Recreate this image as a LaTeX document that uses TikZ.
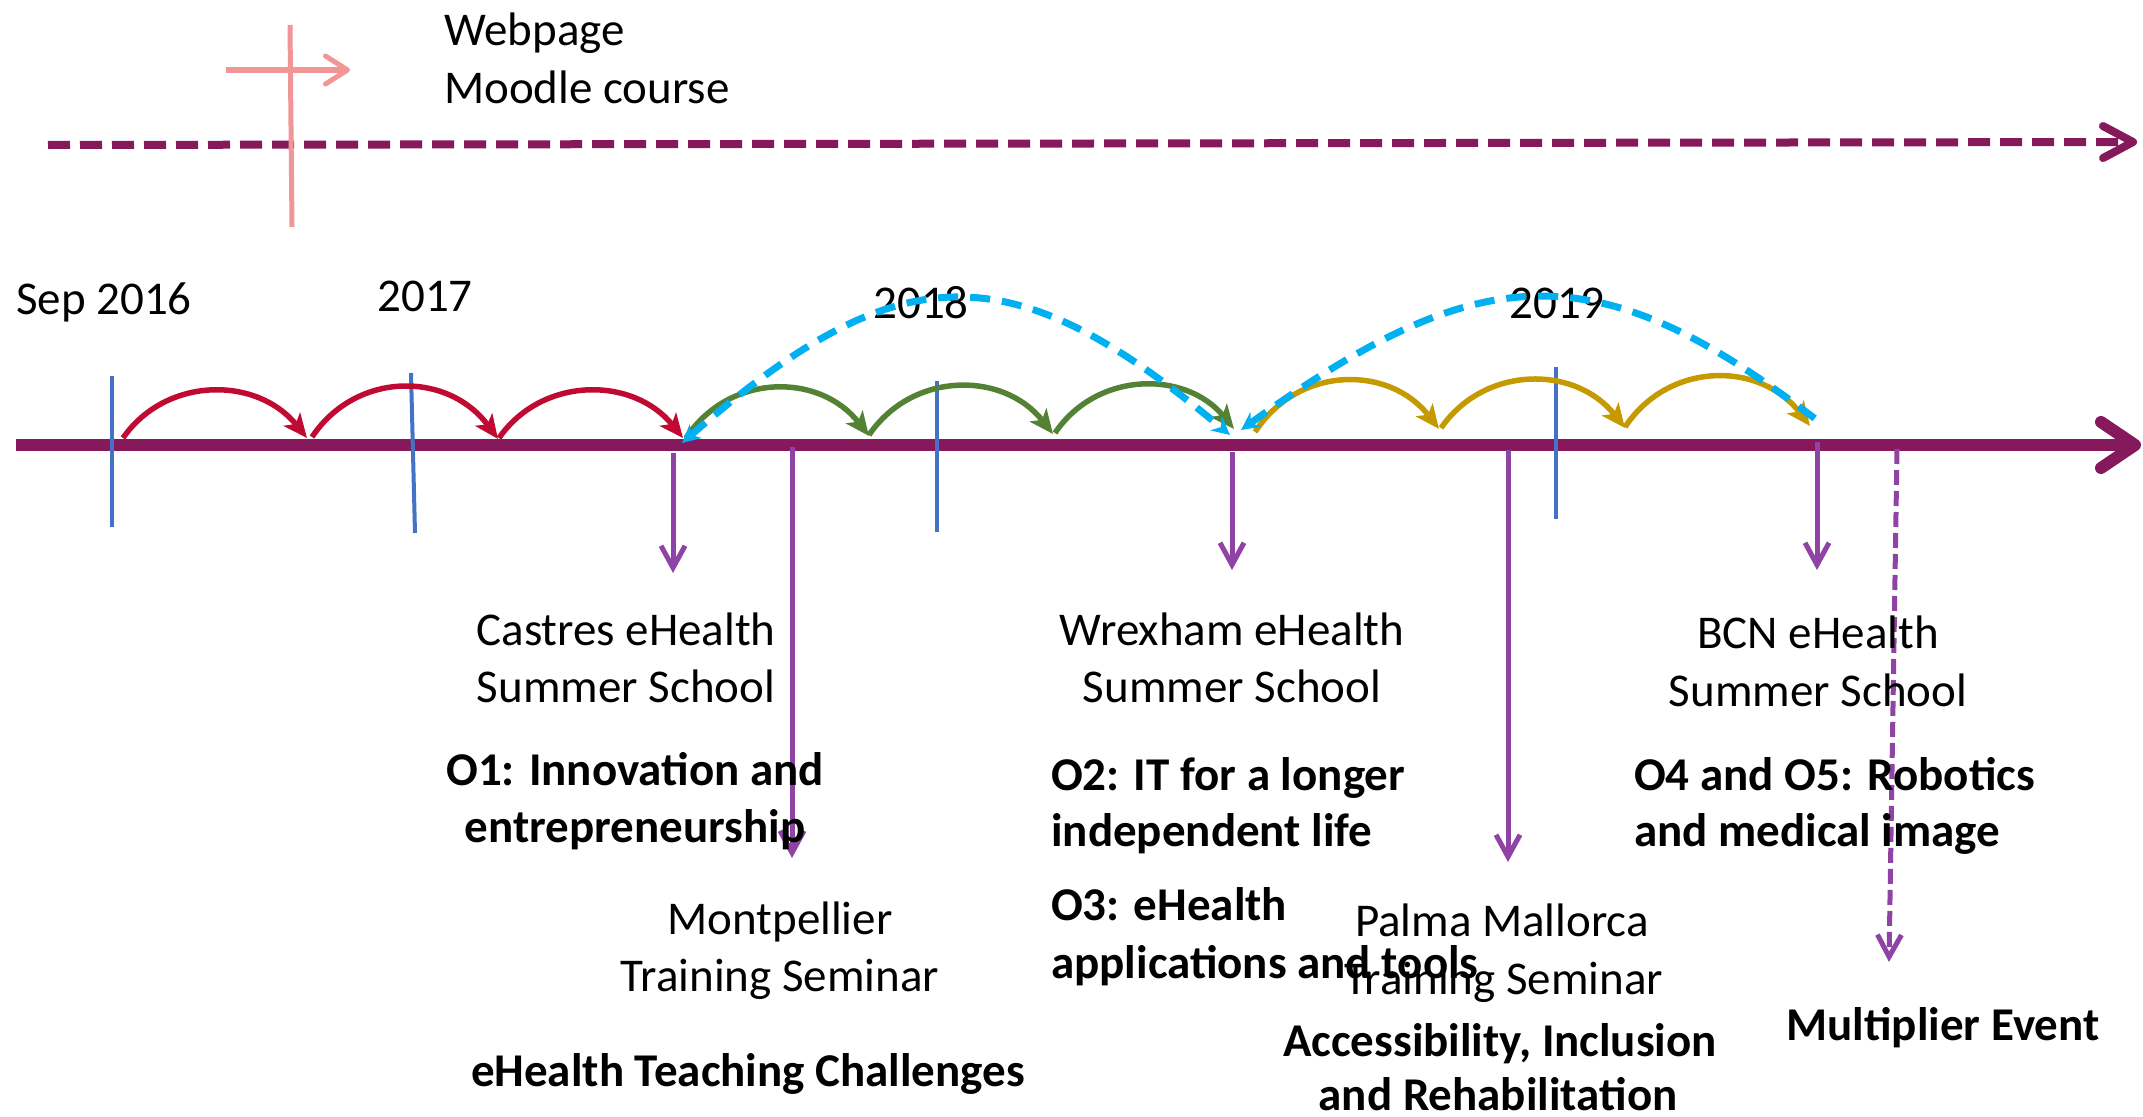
\documentclass[tikz,border=0pt]{standalone}
\usepackage{fontspec}
\setmainfont{Carlito}
\usetikzlibrary{arrows.meta}
\definecolor{axisc}{RGB}{134,24,92}
\definecolor{tickc}{RGB}{68,114,196}
\definecolor{hred}{RGB}{192,10,50}
\definecolor{hgreen}{RGB}{84,130,53}
\definecolor{hgold}{RGB}{197,153,0}
\definecolor{hcyan}{RGB}{0,176,240}
\definecolor{purp}{RGB}{143,67,165}
\definecolor{pinkc}{RGB}{240,150,150}
\tikzset{
  txt/.style={inner sep=0pt, font=\fontsize{47}{57}\selectfont},
  btxt/.style={inner sep=0pt, font=\fontsize{47}{57}\selectfont\bfseries},
  hop/.style={line width=5.5pt, -{Stealth[length=24pt,width=21pt,inset=6pt]}},
  cyanarc/.style={draw=hcyan, line width=7pt, dash pattern=on 20pt off 12pt},
  tickline/.style={draw=tickc, line width=4pt},
  downarrow/.style={draw=purp, line width=5pt, -{Straight Barb[length=22pt,width=24pt]}},
  downdash/.style={downarrow, dash pattern=on 15pt off 6pt},
  axisline/.style={draw=axisc, line width=12pt, -{Straight Barb[round,length=34pt,width=46pt]}},
  topline/.style={draw=axisc, line width=8pt, dash pattern=on 22pt off 10pt, -{Straight Barb[round,length=30pt,width=32pt]}},
  pinkline/.style={draw=pinkc, line width=5pt}
}
\begin{document}
\begin{tikzpicture}[x=1pt,y=-1pt]
\useasboundingbox (0,0) rectangle (2143,1116);

% ---- top: pink cross, website text, dashed line
\coordinate (pv0) at (290,25);
\coordinate (pv1) at (292,227);
\coordinate (ph0) at (226,70);
\coordinate (ph1) at (350,70);
\coordinate (tl0) at (48,145);
\coordinate (tl1) at (2137,142);
\draw[topline] (tl0) -- (tl1);
\draw[pinkline] (pv0) -- (pv1);
\draw[pinkline, -{Straight Barb[round,length=22pt,width=28pt]}] (ph0) -- (ph1);
\node[txt, anchor=base west] (web) at (444,46) {Webpage};
\node[txt, anchor=base west] (moodle) at (444,103) {Moodle course};

% ---- year labels
\node[txt, anchor=base west] (ysep) at (16,314) {Sep 2016};
\node[txt, anchor=base] (y17) at (425,311) {2017};
\node[txt, anchor=base] (y18) at (921,318) {2018};
\node[txt, anchor=base] (y19) at (1557,318) {2019};

% ---- main axis
\coordinate (ax0) at (16,445);
\coordinate (ax1) at (2141,445);
\draw[axisline] (ax0) -- (ax1);

% ---- purple arrows down
\coordinate (p1a) at (673,453);  \coordinate (p1b) at (673,573);
\coordinate (p2a) at (792,447);  \coordinate (p2b) at (792,858);
\coordinate (p3a) at (1232,452); \coordinate (p3b) at (1232,570);
\coordinate (p4a) at (1508,450); \coordinate (p4b) at (1508,862);
\coordinate (p5a) at (1817,442); \coordinate (p5b) at (1817,570);
\coordinate (p6a) at (1897,449); \coordinate (p6b) at (1889,962);
\draw[downarrow] (p1a) -- (p1b);
\draw[downarrow] (p2a) -- (p2b);
\draw[downarrow] (p3a) -- (p3b);
\draw[downarrow] (p4a) -- (p4b);
\draw[downarrow] (p5a) -- (p5b);
\draw[downdash] (p6a) -- (p6b);

% ---- blue year ticks
\coordinate (t1a) at (112,376);  \coordinate (t1b) at (112,527);
\coordinate (t2a) at (411,373);  \coordinate (t2b) at (415,533);
\coordinate (t3a) at (937,381);  \coordinate (t3b) at (937,532);
\coordinate (t4a) at (1556,367); \coordinate (t4b) at (1556,519);
\draw[tickline] (t1a) -- (t1b);
\draw[tickline] (t2a) -- (t2b);
\draw[tickline] (t3a) -- (t3b);
\draw[tickline] (t4a) -- (t4b);

% ---- hops
\coordinate (r0) at (123,438);  \coordinate (r1) at (307,438);
\coordinate (r1s) at (312,437); \coordinate (r2) at (498,439);
\coordinate (r2s) at (499,438); \coordinate (r3) at (683,438);
\draw[hop, hred] (r0) .. controls (166,376) and (257,376) .. (r1);
\draw[hop, hred] (r1s) .. controls (356,371) and (448,371) .. (r2);
\draw[hop, hred] (r2s) .. controls (542,376) and (633,376) .. (r3);
\coordinate (g0) at (686,438);   \coordinate (g1) at (869,436);
\coordinate (g1s) at (869,435);  \coordinate (g2) at (1053,434);
\coordinate (g2s) at (1055,433); \coordinate (g3) at (1234,429);
\draw[hop, hgreen] (g0) .. controls (729,372.5) and (820,372.5) .. (g1);
\draw[hop, hgreen] (g1s) .. controls (912.5,371) and (1003.5,371) .. (g2);
\draw[hop, hgreen] (g2s) .. controls (1097,370.5) and (1186,370.5) .. (g3);
\coordinate (o0) at (1255,432);  \coordinate (o1) at (1439,429);
\coordinate (o1s) at (1441,428); \coordinate (o2) at (1625,428);
\coordinate (o2s) at (1625,427); \coordinate (o3) at (1810,426);
\draw[hop, hgold] (o0) .. controls (1298.5,365) and (1389.5,365) .. (o1);
\draw[hop, hgold] (o1s) .. controls (1484.5,365) and (1575.5,365) .. (o2);
\draw[hop, hgold] (o2s) .. controls (1668.75,361) and (1760.25,361) .. (o3);

% ---- event labels
\node[txt, anchor=base] (cas1) at (626,645) {Castres eHealth};
\node[txt, anchor=base] (cas2) at (626,702) {Summer School};
\node[btxt, anchor=base] (ob1a) at (635,785) {O1: Innovation and};
\node[btxt, anchor=base] (ob1b) at (635,842) {entrepreneurship};
\node[txt, anchor=base] (mon1) at (780,934) {Montpellier};
\node[txt, anchor=base] (mon2) at (780,991) {Training Seminar};
\node[btxt, anchor=base] (mon3) at (748,1086) {eHealth Teaching Challenges};

\node[txt, anchor=base] (wre1) at (1232,645) {Wrexham eHealth};
\node[txt, anchor=base] (wre2) at (1232,702) {Summer School};
\node[btxt, anchor=base west] (ob2a) at (1051,790) {O2: IT for a longer};
\node[btxt, anchor=base west] (ob2b) at (1051,846) {independent life};
\node[btxt, anchor=base west] (ob3a) at (1051,920) {O3: eHealth};
\node[btxt, anchor=base west] (ob3b) at (1051,978) {applications and tools};

\node[txt, anchor=base] (pal1) at (1502,936) {Palma Mallorca};
\node[txt, anchor=base] (pal2) at (1504,994) {Training Seminar};
\node[btxt, anchor=base] (pal3) at (1500,1056) {Accessibility, Inclusion};
\node[btxt, anchor=base] (pal4) at (1498,1110) {and Rehabilitation};

\node[txt, anchor=base] (bcn1) at (1818,648) {BCN eHealth};
\node[txt, anchor=base] (bcn2) at (1818,706) {Summer School};
\node[btxt, anchor=base west] (ob4a) at (1634,790) {O4 and O5: Robotics};
\node[btxt, anchor=base west] (ob4b) at (1634,846) {and medical image};

\node[btxt, anchor=base] (mult) at (1943,1040) {Multiplier Event};

% ---- cyan dashed arcs (drawn over the year labels)
\coordinate (ca0) at (682,443);  \coordinate (ca1) at (1230,435);
\coordinate (cb0) at (1241,430); \coordinate (cb1) at (1818,421);
\draw[cyanarc, {Stealth[length=18pt,width=18pt]}-{Stealth[length=18pt,width=18pt]}] (ca0) .. controls (901,252) and (1011,252) .. (ca1);
\draw[cyanarc, {Stealth[length=18pt,width=18pt]}-] (cb0) .. controls (1485,254) and (1600,254) .. (cb1);
\end{tikzpicture}
\end{document}
